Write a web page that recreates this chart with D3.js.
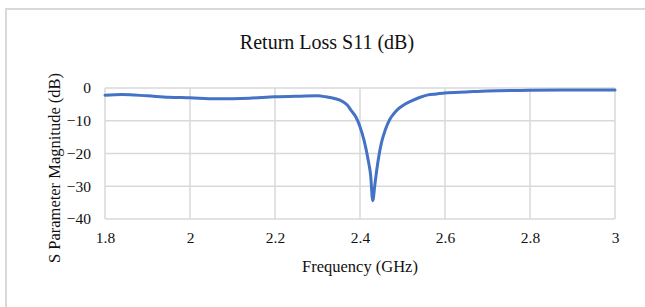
<!DOCTYPE html>
<html>
<head>
<meta charset="utf-8">
<script src="https://cdn.jsdelivr.net/npm/d3@7"></script>
<style>
html,body{margin:0;padding:0;background:#fff;}
svg{display:block;font-family:"Liberation Serif","Times New Roman",serif;}
</style>
</head>
<body>
<svg id="chart" width="645" height="307"></svg>
<script>
const title = "Return Loss S11 (dB)";
const xTitle = "Frequency (GHz)";
const yTitle = "S Parameter Magnitude (dB)";
const xTicks = [1.8, 2, 2.2, 2.4, 2.6, 2.8, 3];
const yTicks = [0, -10, -20, -30, -40];
const freq = [1.8, 1.84, 1.9, 1.95, 2.0, 2.06, 2.14, 2.2, 2.26, 2.3, 2.32, 2.34, 2.36, 2.37, 2.38, 2.39, 2.40, 2.41, 2.42, 2.425, 2.43, 2.435, 2.44, 2.45, 2.46, 2.47, 2.48, 2.49, 2.50, 2.52, 2.54, 2.56, 2.58, 2.60, 2.65, 2.7, 2.8, 2.9, 3.0];
const s11  = [-2.2, -2.0, -2.4, -2.8, -3.0, -3.3, -3.1, -2.7, -2.5, -2.4, -2.7, -3.2, -4.2, -5.2, -7.0, -8.8, -11.8, -16.2, -22.5, -26.6, -34.4, -29.5, -24.5, -17.0, -12.6, -9.6, -7.8, -6.4, -5.4, -4.0, -2.9, -2.1, -1.8, -1.5, -1.2, -0.9, -0.7, -0.6, -0.6];

const svg = d3.select("#chart");
const W = 645, H = 307;

// outer frame
svg.append("rect").attr("x",6).attr("y",9).attr("width",W+20).attr("height",H+20)
  .attr("fill","#fff").attr("stroke","#d9d9d9").attr("stroke-width",2);

const x = d3.scaleLinear().domain([1.8,3]).range([105,615]);
const y = d3.scaleLinear().domain([-40,0]).range([219,88]);

// grid
const g = svg.append("g");
g.selectAll("line.v").data(xTicks).join("line")
  .attr("x1",d=>x(d)).attr("x2",d=>x(d)).attr("y1",y(0)).attr("y2",y(-40))
  .attr("stroke","#d9d9d9").attr("stroke-width",1.5);
g.selectAll("line.h").data(yTicks).join("line")
  .attr("y1",d=>y(d)).attr("y2",d=>y(d)).attr("x1",x(1.8)).attr("x2",x(3))
  .attr("stroke","#d9d9d9").attr("stroke-width",1.5);

// axes labels
const xAxis = d3.axisBottom(x).tickValues(xTicks).tickSize(0).tickPadding(13).tickFormat(d=>d3.format("")(d));
const xa = svg.append("g").attr("transform",`translate(0,${y(-40)})`).call(xAxis);
xa.select(".domain").remove();
xa.selectAll("text").attr("font-family","Liberation Serif").attr("font-size",15.5).attr("fill","#111");

const yAxis = d3.axisLeft(y).tickValues(yTicks).tickSize(0).tickPadding(14);
const ya = svg.append("g").attr("transform",`translate(${x(1.8)},0)`).call(yAxis);
ya.select(".domain").remove();
ya.selectAll("text").attr("font-family","Liberation Serif").attr("font-size",15.5).attr("fill","#111");

// line
const line = d3.line().x((d,i)=>x(freq[i])).y(d=>y(d)).curve(d3.curveMonotoneX);
svg.append("path").datum(s11).attr("d",line).attr("fill","none")
  .attr("stroke","#4472C4").attr("stroke-width",3).attr("stroke-linejoin","round").attr("stroke-linecap","round");

// titles
svg.append("text").attr("x",327).attr("y",49).attr("text-anchor","middle")
  .attr("font-size",20).attr("fill","#111").text(title);
svg.append("text").attr("x",360).attr("y",272).attr("text-anchor","middle")
  .attr("font-size",16.5).attr("fill","#111").text(xTitle);
svg.append("text").attr("transform","translate(60,168) rotate(-90)").attr("text-anchor","middle")
  .attr("font-size",16.5).attr("fill","#111").text(yTitle);
</script>
</body>
</html>
